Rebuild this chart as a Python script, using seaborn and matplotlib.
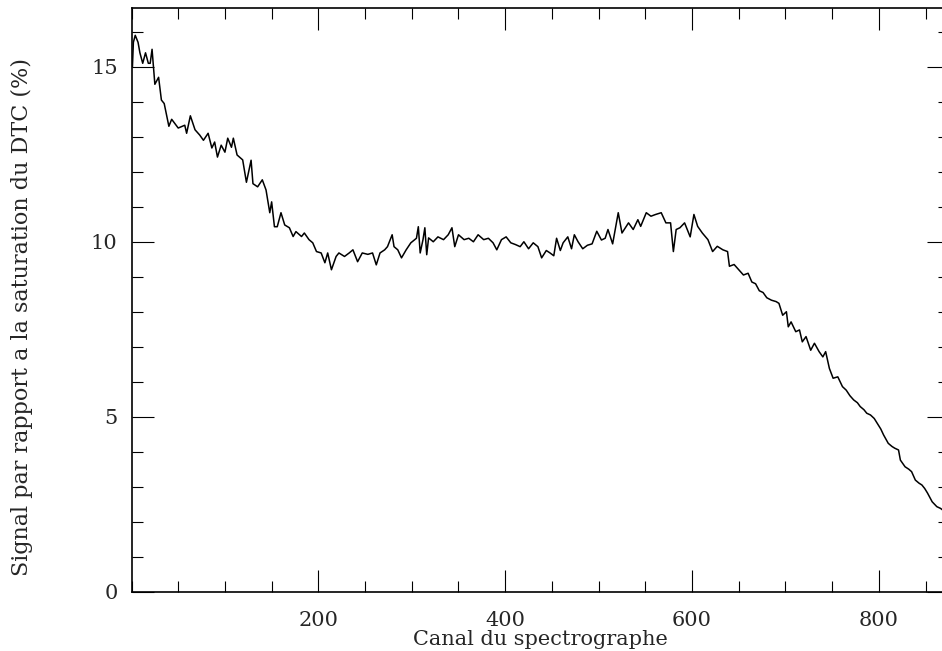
# Signal du DTC le long des canaux du spectrographe
import pandas as pd
import seaborn as sns
import matplotlib.pyplot as plt
from matplotlib.ticker import MultipleLocator

# canaux
channel = [1, 2, 4, 7, 9, 12, 15, 18, 20, 22,
           25, 29, 32, 35, 40, 43, 50, 57, 59, 63,
           68, 73, 77, 82, 86, 89, 92, 96, 100, 103,
           107, 109, 113, 119, 123, 128, 130, 135, 140, 144,
           148, 150, 153, 156, 160, 164, 169, 173, 176, 182,
           185, 190, 194, 198, 203, 207, 210, 214, 219, 222,
           228, 233, 237, 242, 247, 253, 258, 262, 266, 271,
           274, 279, 281, 285, 289, 294, 299, 305, 307, 309,
           312, 314, 316, 318, 323, 328, 334, 339, 343, 346,
           350, 356, 361, 366, 371, 377, 382, 387, 391, 396,
           401, 406, 411, 416, 420, 425, 430, 435, 439, 444,
           448, 452, 455, 459, 462, 467, 471, 474, 478, 483,
           488, 493, 498, 503, 507, 510, 515, 521, 525, 532,
           537, 542, 545, 551, 556, 561, 567, 572, 577, 580,
           583, 587, 592, 598, 602, 606, 611, 617, 622, 627,
           633, 638, 640, 645, 650, 655, 660, 664, 668, 672,
           676, 680, 685, 690, 693, 697, 701, 703, 706, 711,
           715, 718, 722, 727, 731, 736, 740, 743, 747, 751,
           756, 761, 765, 769, 773, 777, 780, 784, 787, 791,
           795, 798, 802, 805, 810, 814, 817, 821, 823, 828,
           832, 835, 839, 843, 846, 849, 852, 857, 862, 866,
           870, 874]

# signal en % de la saturation
signal = [15.0, 15.7, 15.9, 15.7, 15.4, 15.1, 15.4, 15.1, 15.1, 15.5,
          14.5, 14.7, 14.05, 13.95, 13.3, 13.5, 13.25, 13.33, 13.1, 13.6,
          13.2, 13.05, 12.9, 13.1, 12.68, 12.85, 12.42, 12.76, 12.56, 12.96,
          12.7, 12.96, 12.48, 12.34, 11.7, 12.33, 11.66, 11.57, 11.77, 11.48,
          10.83, 11.14, 10.43, 10.43, 10.83, 10.48, 10.4, 10.15, 10.29, 10.15,
          10.25, 10.06, 9.97, 9.72, 9.68, 9.4, 9.68, 9.2, 9.58, 9.68,
          9.58, 9.68, 9.77, 9.43, 9.68, 9.64, 9.68, 9.34, 9.68, 9.77,
          9.86, 10.2, 9.86, 9.77, 9.54, 9.77, 9.97, 10.1, 10.43, 9.68,
          10.06, 10.4, 9.63, 10.11, 10.0, 10.14, 10.06, 10.2, 10.4, 9.86,
          10.2, 10.06, 10.1, 10.0, 10.2, 10.06, 10.1, 9.97, 9.77, 10.06,
          10.14, 9.97, 9.92, 9.86, 10.0, 9.8, 9.97, 9.86, 9.54, 9.75,
          9.68, 9.6, 10.1, 9.75, 9.97, 10.14, 9.8, 10.2, 10.0, 9.8,
          9.9, 9.94, 10.3, 10.05, 10.1, 10.35, 9.94, 10.83, 10.25, 10.54,
          10.35, 10.63, 10.44, 10.83, 10.73, 10.78, 10.83, 10.54, 10.54, 9.72,
          10.35, 10.4, 10.54, 10.14, 10.78, 10.44, 10.25, 10.06, 9.72, 9.87,
          9.77, 9.72, 9.3, 9.35, 9.2, 9.05, 9.1, 8.85, 8.8, 8.6,
          8.55, 8.4, 8.33, 8.29, 8.24, 7.9, 8.0, 7.57, 7.71, 7.43,
          7.48, 7.14, 7.29, 6.9, 7.1, 6.86, 6.71, 6.86, 6.38, 6.1,
          6.14, 5.86, 5.76, 5.6, 5.48, 5.4, 5.29, 5.2, 5.1, 5.05,
          4.95, 4.82, 4.65, 4.48, 4.24, 4.15, 4.1, 4.05, 3.76, 3.57,
          3.5, 3.43, 3.19, 3.1, 3.05, 2.95, 2.82, 2.57, 2.43, 2.38,
          2.3, 2.25]

x_ticks = [200, 400, 600, 800]
y_ticks = [0, 5, 10, 15]

assert len(channel) == len(signal)
data = pd.DataFrame({"canal": channel, "signal": signal})

sns.set_style("ticks")
plt.rcParams["font.family"] = ["DejaVu Serif"]

fig = plt.figure(figsize=(9.42, 6.51), dpi=100)
# the right frame edge falls just outside the scanned page
ax = fig.add_axes([0.1396, 0.0911, 0.8678, 0.8966])

sns.lineplot(data=data, x="canal", y="signal", color="black",
             linewidth=1.1, estimator=None, ax=ax)

ax.set_xlim(0, 875)
ax.set_ylim(0, 16.68)
ax.set_xticks(x_ticks)
ax.set_yticks(y_ticks)
ax.xaxis.set_minor_locator(MultipleLocator(50))
ax.yaxis.set_minor_locator(MultipleLocator(1))

ax.tick_params(which="both", direction="in", top=True, right=True,
               width=0.8, color="black", labelsize=15)
ax.tick_params(which="major", length=16, pad=10)
ax.tick_params(which="minor", length=8)
ax.tick_params(axis="x", which="major", pad=14)
for s in ax.spines.values():
    s.set_linewidth(1.2)
    s.set_color("black")

ax.set_xlabel("Canal du spectrographe", fontsize=15, labelpad=0)
ax.set_ylabel("Signal par rapport a la saturation du DTC (%)", fontsize=16)
ax.yaxis.set_label_coords(-0.12, 0.47)

fig.savefig("out.png", dpi=100)
